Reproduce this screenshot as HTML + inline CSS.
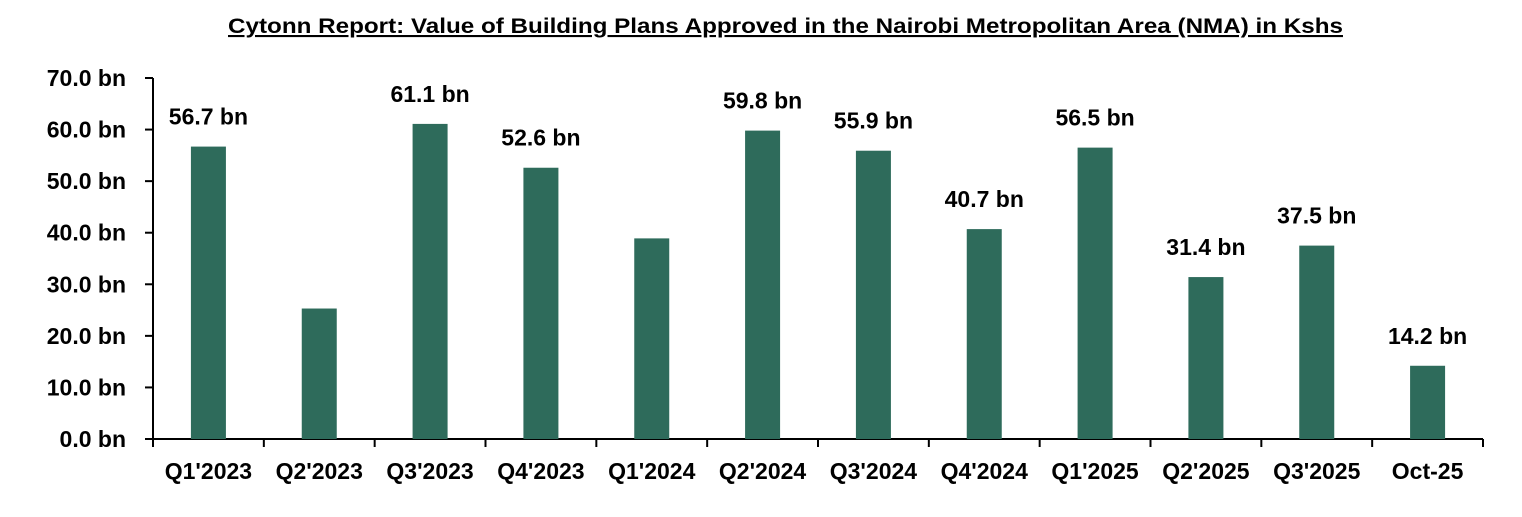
<!DOCTYPE html>
<html><head><meta charset="utf-8"><style>
body{margin:0;background:#fff;}
svg text{font-family:"Liberation Sans",sans-serif;font-weight:bold;fill:#000;}
</style></head><body>
<svg id="chart" width="1522" height="512">
<text x="228" y="33" font-size="21" textLength="1115" lengthAdjust="spacingAndGlyphs" text-decoration="underline">Cytonn Report: Value of Building Plans Approved in the Nairobi Metropolitan Area (NMA) in Kshs</text>
<g id="axes"></g><g id="bars"></g>
</svg>
<script>
const categories=["Q1'2023","Q2'2023","Q3'2023","Q4'2023","Q1'2024","Q2'2024","Q3'2024","Q4'2024","Q1'2025","Q2'2025","Q3'2025","Oct-25"];
const values=[56.7,25.3,61.1,52.6,38.9,59.8,55.9,40.7,56.5,31.4,37.5,14.2];
const labels=["56.7 bn","","61.1 bn","52.6 bn","","59.8 bn","55.9 bn","40.7 bn","56.5 bn","31.4 bn","37.5 bn","14.2 bn"];
const yTicks=[0,10,20,30,40,50,60,70];
const NS="http://www.w3.org/2000/svg";
const x0=153,x1=1483,y0=439,yTop=78,yMax=70;
const y=v=>y0-(v/yMax)*(y0-yTop);
const bw=(x1-x0)/categories.length;
const ax=document.getElementById('axes'),bg=document.getElementById('bars');
function mk(tag,attrs,parent){const e=document.createElementNS(NS,tag);for(const k in attrs)e.setAttribute(k,attrs[k]);parent.appendChild(e);return e;}
let l=mk('line',{x1:x0,y1:yTop,x2:x0,y2:y0+1,stroke:'#000','stroke-width':2},ax);


l=mk('line',{x1:x0-8,y1:y0,x2:x1,y2:y0,stroke:'#000','stroke-width':2},ax);


yTicks.forEach(t=>{
  const tk=mk('line',{x1:x0-8,y1:y(t),x2:x0,y2:y(t),stroke:'#000','stroke-width':2},ax);
  
  
  const tx=mk('text',{x:x0-27,y:y(t)+8,'text-anchor':'end','font-size':23},ax);
  tx.textContent=t.toFixed(1)+' bn';
  
  
});
for(let i=0;i<=categories.length;i++){
  const tk=mk('line',{x1:x0+i*bw,y1:y0,x2:x0+i*bw,y2:y0+8,stroke:'#000','stroke-width':2},ax);
  
  
}
categories.forEach((c,i)=>{
  const cx=x0+bw*(i+0.5);
  const r=mk('rect',{x:cx-17.5,y:y(values[i]),width:35,height:y0-y(values[i]),fill:'#2E6B5B'},bg);
  
  
  const tx=mk('text',{x:cx,y:479,'text-anchor':'middle','font-size':23},ax);
  tx.textContent=c;
  
  
  if(labels[i]){
    const dl=mk('text',{x:cx,y:y(values[i])-22,'text-anchor':'middle','font-size':23},bg);
    dl.textContent=labels[i];
    
    
  }
});
</script>
</body></html>
